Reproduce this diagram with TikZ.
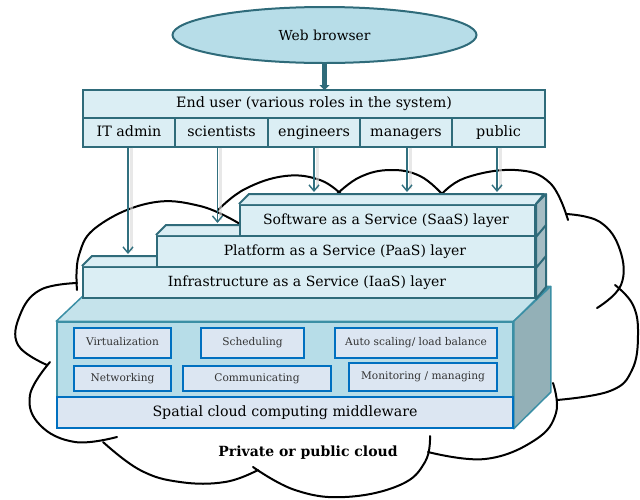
\documentclass[tikz,border=0pt]{standalone}
\usepackage{fontspec}
\setmainfont{DejaVu Serif}
\usetikzlibrary{shapes.geometric,arrows.meta}
\definecolor{tealdk}{HTML}{2F6B7A}
\definecolor{arrc}{HTML}{31707F}
\definecolor{lightf}{HTML}{DBEEF4}
\definecolor{ellf}{HTML}{B7DDE8}
\definecolor{sideg}{HTML}{A6BDC4}
\definecolor{mwfront}{HTML}{B7DDE8}
\definecolor{mwtop}{HTML}{C5E3EB}
\definecolor{mwright}{HTML}{93B0B7}
\definecolor{mwborder}{HTML}{3B8FA5}
\definecolor{innerf}{HTML}{DCE6F2}
\definecolor{innerb}{HTML}{0070C0}
\tikzset{
  cellbox/.style={draw=tealdk, fill=lightf, line width=1.3pt, inner sep=0pt,
    text height=10.5pt, text depth=3pt, font=\fontsize{14.3}{16}\selectfont},
  layerbox/.style={draw=tealdk, fill=lightf, line width=2pt, inner sep=0pt,
    minimum height=31pt},
  layertext/.style={font=\fontsize{14}{16}\selectfont, inner sep=0pt, text height=10.5pt, text depth=3pt},
  layerface/.style={draw=tealdk, line width=2pt, line join=round},
  innerbox/.style={draw=innerb, fill=innerf, line width=2.2pt, inner sep=0pt,
    text height=8pt, text depth=2.3pt,
    text=black!80, font=\fontsize{10.6}{12}\selectfont},
  cloudline/.style={draw=black, line width=2pt, line cap=round},
  roleArrow/.style={draw=arrc, line width=1.4pt, -{Straight Barb[length=6pt,width=10pt,line width=1.4pt]}},
  roleShadow/.style={draw=black!15, line width=3pt, opacity=0.6},
}
\begin{document}
\begin{tikzpicture}[x=1pt,y=-1pt]
\useasboundingbox (0,0) rectangle (640,499);
% ---------- cloud ----------
\draw[cloudline] plot[smooth,tension=0.7] coordinates {(77,290) (79,255) (98,226) (150,203) (200,206) (240,224)};
\draw[cloudline] plot[smooth,tension=0.7] coordinates {(218,210) (245,189) (285,176) (320,180) (342,195)};
\draw[cloudline] plot[smooth,tension=0.7] coordinates {(337,194) (360,177) (390,170) (420,176) (443,195)};
\draw[cloudline] plot[smooth,tension=0.7] coordinates {(440,196) (465,178) (515,170) (550,183) (568,220)};
\draw[cloudline] plot[smooth,tension=0.7] coordinates {(566,214) (600,222) (620,250) (621,285) (597,308)};
\draw[cloudline] plot[smooth,tension=0.7] coordinates {(615,285) (633,305) (638,335) (632,370) (610,391) (557,400)};
\draw[cloudline] plot[smooth,tension=0.7] coordinates {(553,383) (556,413) (535,440) (485,459) (428,452)};
\draw[cloudline] plot[smooth,tension=0.7] coordinates {(430,436) (425,462) (400,485) (345,497) (295,490) (253,467)};
\draw[cloudline] plot[smooth,tension=0.7] coordinates {(258,470) (225,482) (180,482) (140,470) (103,442)};
\draw[cloudline] plot[smooth,tension=0.7] coordinates {(117,437) (75,442) (40,425) (30,395) (50,362)};
\draw[cloudline] plot[smooth,tension=0.7] coordinates {(77,283) (40,290) (20,315) (18,345) (47,365)};
% ---------- web browser ----------
\node[ellipse, draw=tealdk, fill=ellf, line width=2pt, minimum width=304pt, minimum height=56pt,
  inner sep=0pt, font=\fontsize{13.8}{16}\selectfont] (wb) at (324.5,35) {Web browser};
% ---------- end user ----------
\node[cellbox, minimum width=462pt, minimum height=28pt] (eu) at (314,104) {End user (various roles in the system)};
\node[cellbox, minimum width=92pt, minimum height=29pt] (r1) at (129,132.5) {IT admin};
\node[cellbox, minimum width=93pt, minimum height=29pt] (r2) at (221.5,132.5) {scientists};
\node[cellbox, minimum width=92pt, minimum height=29pt] (r3) at (314,132.5) {engineers};
\node[cellbox, minimum width=92pt, minimum height=29pt] (r4) at (406,132.5) {managers};
\node[cellbox, minimum width=93pt, minimum height=29pt] (r5) at (498.5,132.5) {public};
\coordinate (wbend) at (324.5,90);
\draw[tealdk, line width=4.5pt, -{Triangle[length=5pt,width=10pt]}] (wb.south) -- (wbend);
% ---------- middleware box ----------
\node[draw=mwborder, fill=mwfront, line width=1.5pt, minimum width=456pt, minimum height=106pt, inner sep=0pt] (mw) at (285,375) {};
\draw[draw=mwborder, fill=mwtop, line width=1.5pt, line join=round] (mw.north west) -- ++(37,-35) -- ++(456,0) -- (mw.north east) -- cycle;
\draw[draw=mwborder, fill=mwright, line width=1.5pt, line join=round] (mw.north east) -- ++(37,-35) -- ++(0,106) -- (mw.south east) -- cycle;
\node[innerbox, minimum width=97pt, minimum height=30pt] (virt) at (122.5,343) {Virtualization};
\node[innerbox, minimum width=103pt, minimum height=30pt] (sched) at (252.5,343) {Scheduling};
\node[innerbox, minimum width=162pt, minimum height=30pt] (auto) at (416,343) {Auto scaling/ load balance};
\node[innerbox, minimum width=97pt, minimum height=25pt] (net) at (122.5,378.5) {Networking};
\node[innerbox, minimum width=148pt, minimum height=25pt] (comm) at (257,378.5) {Communicating};
\node[innerbox, minimum width=148pt, minimum height=28pt] (mon) at (423,377) {Monitoring / managing};
\node[innerbox, text=black, minimum width=456pt, minimum height=31pt, text height=10.5pt, text depth=3pt, font=\fontsize{14.2}{16}\selectfont] (spat) at (285,412.5) {Spatial cloud computing middleware};
% ---------- layers ----------
\node[layerbox, minimum width=452pt] (iaas) at (309,282.5) {};
\fill[lightf] (iaas.north west) -- ++(10,-10) -- ++(452,0) -- (iaas.north east) -- cycle;
\draw[layerface] (iaas.north west) -- ++(10,-10) -- ++(452,0) -- (iaas.north east);
\draw[layerface, fill=sideg] (iaas.north east) -- ++(10,-10) -- ++(0,31) -- (iaas.south east) -- cycle;
\node[layertext] (iaast) at (307,282.5) {Infrastructure as a Service (IaaS) layer};
\node[layerbox, minimum width=378pt] (paas) at (346,251.5) {};
\fill[lightf] (paas.north west) -- ++(10,-10) -- ++(378,0) -- (paas.north east) -- cycle;
\draw[layerface] (paas.north west) -- ++(10,-10) -- ++(378,0) -- (paas.north east);
\draw[layerface, fill=sideg] (paas.north east) -- ++(10,-10) -- ++(0,31) -- (paas.south east) -- cycle;
\node[layertext] (paast) at (345,251.5) {Platform as a Service (PaaS) layer};
\node[layerbox, minimum width=295pt] (saas) at (387.5,220.5) {};
\fill[lightf] (saas.north west) -- ++(10,-10) -- ++(295,0) -- (saas.north east) -- cycle;
\draw[layerface] (saas.north west) -- ++(10,-10) -- ++(295,0) -- (saas.north east);
\draw[layerface, fill=sideg] (saas.north east) -- ++(10,-10) -- ++(0,31) -- (saas.south east) -- cycle;
\node[layertext] (saast) at (386,220.5) {Software as a Service (SaaS) layer};
% ---------- role arrows ----------
\coordinate (t1) at (128,254);
\coordinate (t2) at (217.5,223);
\coordinate (t3) at (314,192);
\coordinate (t4) at (407,192);
\coordinate (t5) at (497,192);
\foreach \r/\t in {r1/t1, r2/t2, r3/t3, r4/t4, r5/t5}{
  \draw[roleShadow] ([xshift=3pt]\r.south -| \t) -- ([xshift=3pt,yshift=3pt]\t);
}
\draw[roleArrow] (r1.south -| t1) -- (t1);
\draw[roleArrow] (r2.south -| t2) -- (t2);
\draw[roleArrow] (r3.south -| t3) -- (t3);
\draw[roleArrow] (r4.south -| t4) -- (t4);
\draw[roleArrow] (r5.south -| t5) -- (t5);
% ---------- cloud label ----------
\node[font=\bfseries\fontsize{14}{16}\selectfont] (cl) at (308,453) {Private or public cloud};
\end{tikzpicture}
\end{document}
